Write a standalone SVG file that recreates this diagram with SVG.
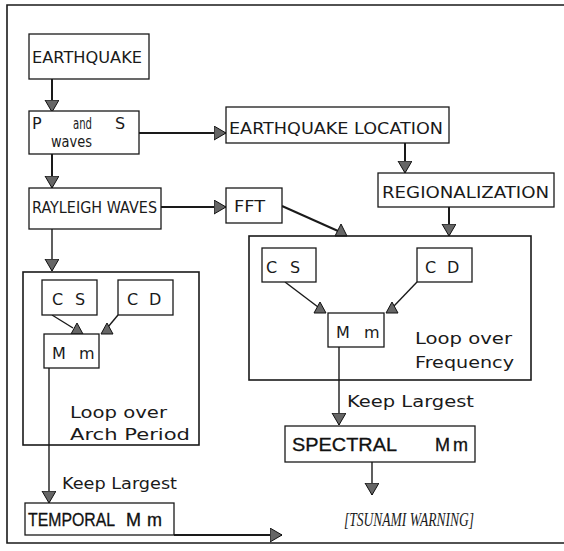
<svg xmlns="http://www.w3.org/2000/svg" width="564" height="551" viewBox="0 0 564 551">
<style>
.box{fill:#fff;stroke:#1a1a1a;stroke-width:1.3}
.frame{fill:none;stroke:#1a1a1a;stroke-width:1.6}
.t{font-family:"DejaVu Sans","Liberation Sans",sans-serif;font-size:16px;fill:#1a1a1a}
.b{font-family:"Liberation Sans","DejaVu Sans",sans-serif;font-size:18px;fill:#111;stroke:#111;stroke-width:0.3}
.ln{fill:none;stroke:#1a1a1a;stroke-width:1.4}
.th{fill:none;stroke:#1a1a1a;stroke-width:2}
.ah{fill:#666;stroke:#111;stroke-width:1}
.ts{font-family:"Liberation Serif",serif;font-style:italic;font-size:19px;fill:#1a1a1a}
</style>
<defs>
<marker id="arr" markerUnits="userSpaceOnUse" markerWidth="14" markerHeight="16" refX="12" refY="7" orient="auto">
<path d="M0,0 L12,7 L0,14 z" class="ah"/>
</marker>
</defs>
<path class="frame" d="M564,5 H7 V543 H564"/>

<g id="connectors">
<path class="th" d="M52,79 V112" marker-end="url(#arr)"/>
<path class="th" d="M139,133 H226" marker-end="url(#arr)"/>
<path class="th" d="M405,143 V173" marker-end="url(#arr)"/>
<path class="th" d="M52,154 V188" marker-end="url(#arr)"/>
<path class="th" d="M161,207 H226" marker-end="url(#arr)"/>
<path class="ln" d="M52,229 V271" marker-end="url(#arr)"/>
<path class="th" d="M449,207 V236" marker-end="url(#arr)"/>
<path class="th" d="M282,206 L338,231"/>
<polygon class="ah" points="341,224 335,236 347,236"/>
<path class="ln" d="M285,282 L318,307"/>
<polygon class="ah" points="320,302 314,313 326,313"/>
<path class="ln" d="M417,282 L394,306"/>
<polygon class="ah" points="392,302 386,313 398,313"/>
<path class="ln" d="M52,315 L73,328"/>
<polygon class="ah" points="77,323 71,334 83,334"/>
<path class="ln" d="M118,315 L108,327"/>
<polygon class="ah" points="107,323 101,334 113,334"/>
<path class="ln" d="M339,347 V425" marker-end="url(#arr)"/>
<path class="ln" d="M49,368 V503" marker-end="url(#arr)"/>
<path class="ln" d="M372,462 V495" marker-end="url(#arr)"/>
<path class="th" d="M174,535 H282" marker-end="url(#arr)"/>
</g>

<g id="earthquake"><rect class="box" x="29" y="34" width="120" height="45"/>
<text class="t" x="32" y="63" font-size="17" textLength="110" lengthAdjust="spacingAndGlyphs">EARTHQUAKE</text></g>

<g id="pswaves"><rect class="box" x="29" y="111" width="110" height="43"/>
<text class="t" x="32" y="129">P</text>
<text class="t" x="73" y="129" textLength="19" lengthAdjust="spacingAndGlyphs">and</text>
<text class="t" x="115" y="129">S</text>
<text class="t" x="51" y="147" font-size="15" textLength="41" lengthAdjust="spacingAndGlyphs">waves</text></g>

<g id="eqlocation"><rect class="box" x="226" y="107" width="223" height="36"/>
<text class="t" x="229" y="134" textLength="214" lengthAdjust="spacingAndGlyphs">EARTHQUAKE LOCATION</text></g>

<g id="regionalization"><rect class="box" x="378" y="173" width="176" height="34"/>
<text class="t" x="382" y="198" textLength="167" lengthAdjust="spacingAndGlyphs">REGIONALIZATION</text></g>

<g id="rayleigh"><rect class="box" x="29" y="188" width="132" height="41"/>
<text class="t" x="32" y="213" font-size="15" textLength="125" lengthAdjust="spacingAndGlyphs">RAYLEIGH WAVES</text></g>

<g id="fft"><rect class="box" x="226" y="188" width="56" height="35"/>
<text class="t" x="234" y="212" textLength="31" lengthAdjust="spacingAndGlyphs">FFT</text></g>

<g id="loop-frequency"><rect class="frame" x="249" y="236" width="282" height="144"/>
<text class="t" x="415" y="344" textLength="97" lengthAdjust="spacingAndGlyphs">Loop over</text>
<text class="t" x="415" y="368" textLength="99" lengthAdjust="spacingAndGlyphs">Frequency</text></g>

<g id="cs-right"><rect class="box" x="262" y="248" width="54" height="34"/>
<text class="t" x="266" y="273">C</text><text class="t" x="290" y="273">S</text></g>
<g id="cd-right"><rect class="box" x="417" y="248" width="55" height="34"/>
<text class="t" x="425" y="273">C</text><text class="t" x="447" y="273">D</text></g>
<g id="mm-right"><rect class="box" x="328" y="313" width="56" height="34"/>
<text class="t" x="336" y="338">M</text><text class="t" x="364" y="338">m</text></g>

<g id="loop-arch"><rect class="frame" x="23" y="272" width="176" height="173"/>
<text class="t" x="70" y="418" textLength="97" lengthAdjust="spacingAndGlyphs">Loop over</text>
<text class="t" x="70" y="440" textLength="120" lengthAdjust="spacingAndGlyphs">Arch Period</text></g>

<g id="cs-left"><rect class="box" x="42" y="280" width="55" height="35"/>
<text class="t" x="52" y="305">C</text><text class="t" x="75" y="305">S</text></g>
<g id="cd-left"><rect class="box" x="118" y="280" width="55" height="35"/>
<text class="t" x="127" y="305">C</text><text class="t" x="149" y="305">D</text></g>
<g id="mm-left"><rect class="box" x="44" y="334" width="55" height="34"/>
<text class="t" x="52" y="359">M</text><text class="t" x="79" y="359">m</text></g>

<text class="t" x="347" y="407" font-size="15" textLength="127" lengthAdjust="spacingAndGlyphs">Keep Largest</text>
<text class="t" x="62" y="489" font-size="15" textLength="115" lengthAdjust="spacingAndGlyphs">Keep Largest</text>

<g id="spectral"><rect class="box" x="285" y="426" width="190" height="36"/>
<text class="b" x="292" y="451" textLength="105" lengthAdjust="spacingAndGlyphs">SPECTRAL</text>
<text class="b" x="435" y="451">M</text><text class="b" x="453" y="451" font-size="16">m</text></g>

<g id="temporal"><rect class="box" x="25" y="503" width="149" height="32"/>
<text class="b" x="28" y="526" font-size="17" textLength="87" lengthAdjust="spacingAndGlyphs">TEMPORAL</text>
<text class="b" x="126" y="526" font-size="17">M</text><text class="b" x="147" y="526" font-size="13">m</text></g>

<g id="tsunami"><text class="ts" x="344" y="526" textLength="130" lengthAdjust="spacingAndGlyphs">[TSUNAMI WARNING]</text></g>
</svg>
